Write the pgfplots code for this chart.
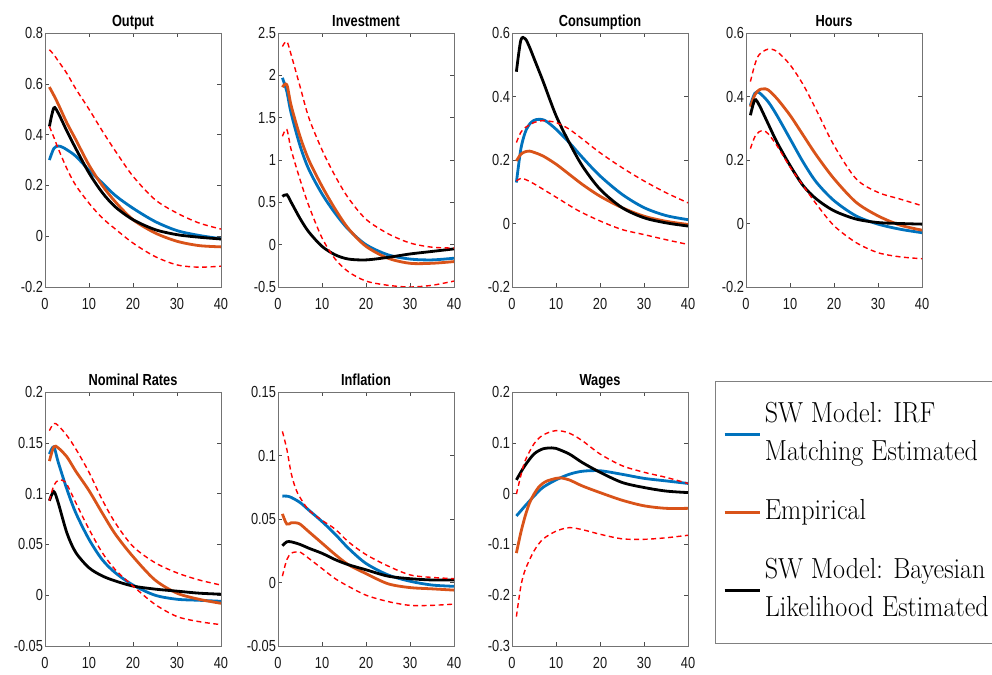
\documentclass[border=0pt]{standalone}
\usepackage{fontspec}
\usepackage{graphicx}
\usepackage{pgfplots}
\pgfplotsset{compat=1.18}

\newfontfamily\matfont[FakeStretch=0.8]{Liberation Sans}
\newcommand\tickfont{\matfont\fontsize{16}{16}\selectfont}
\newcommand\titfont{\matfont\bfseries\fontsize{16}{16}\selectfont}
\newcommand\legfont{\fontsize{29}{38}\selectfont}

\definecolor{mblue}{rgb}{0,0.447,0.741}
\definecolor{morange}{rgb}{0.85,0.325,0.098}

\pgfplotsset{
  irf/.style={
    scale only axis, width=176pt, height=254pt,
    xmin=0, xmax=40, xtick={0,10,20,30,40},
    tick align=inside, major tick length=4pt,
    axis line style={black!55, line width=0.5pt},
    tick style={black!70, line width=0.5pt},
    ticklabel style={font=\tickfont, text=black!90},
    /pgf/number format/assume math mode=true,
    scaled y ticks=false,
    yticklabel style={/pgf/number format/fixed, xshift=1.5pt},
    xticklabel style={yshift=-8pt},
    title style={font=\titfont, anchor=base},
  },
  blu/.style={color=mblue, line width=2.8pt, smooth, tension=0.5},
  ora/.style={color=morange, line width=2.8pt, smooth, tension=0.5},
  blk/.style={color=black, line width=2.8pt, smooth, tension=0.5},
  band/.style={color=red, line width=1.4pt, dash pattern=on 5pt off 3.5pt, smooth, tension=0.5, forget plot},
}

% legend texts: one or two lines, vertically centred
\newcommand\legtext[1]{\scalebox{0.9}[1]{\parbox[c]{250pt}{\legfont #1}}}

\begin{document}
\begin{tikzpicture}
\useasboundingbox (0,0) rectangle (992pt,674pt);

% ---- Output
\begin{axis}[irf, at={(45pt,387pt)}, anchor=south west, title={Output},
  ymin=-0.2, ymax=0.8, ytick={-0.2,0,0.2,0.4,0.6,0.8}]
\addplot[blu] coordinates {(1,0.30)(2,0.345)(3,0.355)(4,0.35)(5,0.34)(7,0.315)(10,0.26)(13,0.21)(16,0.16)(20,0.11)(25,0.058)(30,0.022)(35,0.003)(40,-0.01)};
\addplot[ora] coordinates {(1,0.587)(2,0.555)(3,0.52)(5,0.445)(7,0.38)(10,0.28)(13,0.2)(16,0.135)(20,0.065)(25,0.013)(30,-0.02)(35,-0.037)(40,-0.042)};
\addplot[blk] coordinates {(1,0.432)(2,0.505)(3,0.485)(5,0.413)(7,0.345)(10,0.249)(13,0.172)(16,0.115)(20,0.065)(25,0.026)(30,0.006)(35,-0.004)(40,-0.011)};
\addplot[band] coordinates {(1,0.734)(2,0.715)(3,0.69)(5,0.64)(7,0.58)(10,0.5)(13,0.415)(16,0.335)(20,0.236)(25,0.144)(30,0.091)(35,0.052)(40,0.028)};
\addplot[band] coordinates {(1,0.432)(2,0.39)(3,0.345)(5,0.265)(7,0.2)(10,0.13)(13,0.072)(16,0.028)(20,-0.027)(25,-0.08)(30,-0.113)(35,-0.122)(40,-0.118)};
\end{axis}

% ---- Investment
\begin{axis}[irf, at={(278pt,387pt)}, anchor=south west, title={Investment},
  ymin=-0.5, ymax=2.5, ytick={-0.5,0,0.5,1,1.5,2,2.5}]
\addplot[blu] coordinates {(1,1.97)(2,1.81)(3,1.55)(5,1.17)(7,0.89)(10,0.6)(13,0.37)(16,0.18)(20,0.0)(25,-0.12)(30,-0.17)(35,-0.18)(40,-0.16)};
\addplot[ora] coordinates {(1,1.86)(2,1.89)(3,1.64)(5,1.28)(7,1.0)(10,0.69)(13,0.42)(16,0.19)(20,-0.02)(25,-0.16)(30,-0.22)(35,-0.22)(40,-0.20)};
\addplot[blk] coordinates {(1,0.57)(2,0.59)(3,0.5)(5,0.31)(7,0.15)(10,-0.02)(13,-0.12)(16,-0.17)(20,-0.18)(25,-0.15)(30,-0.11)(35,-0.08)(40,-0.05)};
\addplot[band] coordinates {(1,2.34)(2,2.40)(3,2.24)(5,1.87)(7,1.5)(10,1.12)(13,0.81)(16,0.55)(20,0.30)(25,0.13)(30,0.02)(35,-0.03)(40,-0.04)};
\addplot[band] coordinates {(1,1.28)(2,1.36)(3,1.12)(5,0.77)(7,0.46)(10,0.08)(13,-0.17)(16,-0.32)(20,-0.43)(25,-0.48)(30,-0.50)(35,-0.48)(40,-0.43)};
\end{axis}

% ---- Consumption
\begin{axis}[irf, at={(512pt,387pt)}, anchor=south west, title={Consumption},
  ymin=-0.2, ymax=0.6, ytick={-0.2,0,0.2,0.4,0.6}]
\addplot[blu] coordinates {(1,0.129)(2,0.234)(3,0.287)(4,0.313)(5,0.325)(6,0.328)(7,0.327)(8,0.32)(10,0.297)(13,0.255)(16,0.208)(20,0.15)(25,0.092)(30,0.05)(35,0.025)(40,0.012)};
\addplot[ora] coordinates {(1,0.197)(2,0.218)(3,0.226)(4,0.228)(5,0.224)(7,0.213)(10,0.187)(13,0.155)(16,0.123)(20,0.086)(25,0.05)(30,0.023)(35,0.007)(40,-0.003)};
\addplot[blk] coordinates {(1,0.478)(2,0.577)(3,0.582)(4,0.555)(5,0.52)(7,0.45)(10,0.34)(13,0.255)(16,0.181)(20,0.108)(25,0.05)(30,0.018)(35,0.002)(40,-0.008)};
\addplot[band] coordinates {(1,0.255)(2,0.287)(3,0.302)(5,0.318)(7,0.324)(10,0.318)(13,0.297)(16,0.266)(20,0.223)(25,0.176)(30,0.134)(35,0.097)(40,0.065)};
\addplot[band] coordinates {(1,0.134)(2,0.142)(3,0.139)(5,0.125)(10,0.083)(15,0.041)(20,0.008)(25,-0.019)(30,-0.035)(35,-0.051)(40,-0.066)};
\end{axis}

% ---- Hours
\begin{axis}[irf, at={(746pt,387pt)}, anchor=south west, title={Hours},
  ymin=-0.2, ymax=0.6, ytick={-0.2,0,0.2,0.4,0.6}]
\addplot[blu] coordinates {(1,0.373)(2,0.41)(3,0.412)(5,0.384)(7,0.341)(10,0.267)(13,0.193)(16,0.13)(20,0.072)(25,0.024)(30,-0.002)(35,-0.018)(40,-0.029)};
\addplot[ora] coordinates {(1,0.368)(2,0.405)(3,0.421)(4,0.424)(5,0.421)(7,0.394)(10,0.341)(13,0.278)(16,0.215)(20,0.141)(25,0.067)(30,0.024)(35,-0.005)(40,-0.021)};
\addplot[blk] coordinates {(1,0.341)(2,0.389)(3,0.373)(5,0.315)(7,0.257)(10,0.183)(13,0.119)(16,0.077)(20,0.04)(25,0.014)(30,0.003)(35,0.0)(40,-0.002)};
\addplot[band] coordinates {(1,0.447)(2,0.50)(3,0.532)(5,0.549)(7,0.542)(10,0.50)(13,0.437)(16,0.357)(20,0.246)(25,0.141)(30,0.098)(35,0.077)(40,0.056)};
\addplot[band] coordinates {(1,0.236)(2,0.273)(3,0.289)(4,0.292)(5,0.283)(7,0.246)(10,0.178)(13,0.119)(16,0.061)(20,-0.007)(25,-0.06)(30,-0.092)(35,-0.105)(40,-0.111)};
\end{axis}

% ---- Nominal Rates
\begin{axis}[irf, at={(45pt,28pt)}, anchor=south west, title={Nominal Rates},
  ymin=-0.05, ymax=0.2, ytick={-0.05,0,0.05,0.1,0.15,0.2}]
\addplot[blu] coordinates {(1,0.139)(2,0.146)(3,0.131)(5,0.104)(7,0.081)(10,0.055)(13,0.035)(16,0.022)(20,0.010)(25,0.0)(30,-0.004)(35,-0.005)(40,-0.006)};
\addplot[ora] coordinates {(1,0.132)(2,0.146)(3,0.145)(5,0.136)(7,0.122)(10,0.103)(13,0.081)(16,0.06)(20,0.038)(25,0.015)(30,0.002)(35,-0.004)(40,-0.008)};
\addplot[blk] coordinates {(1,0.093)(2,0.102)(3,0.091)(5,0.061)(7,0.042)(10,0.027)(13,0.019)(16,0.014)(20,0.009)(25,0.006)(30,0.004)(35,0.002)(40,0.001)};
\addplot[band] coordinates {(1,0.162)(2,0.169)(3,0.167)(5,0.157)(7,0.144)(10,0.121)(13,0.094)(16,0.071)(20,0.048)(25,0.032)(30,0.022)(35,0.015)(40,0.010)};
\addplot[band] coordinates {(1,0.093)(2,0.108)(3,0.113)(4,0.113)(5,0.109)(7,0.091)(10,0.065)(13,0.042)(16,0.025)(20,0.009)(25,-0.009)(30,-0.021)(35,-0.026)(40,-0.029)};
\end{axis}

% ---- Inflation
\begin{axis}[irf, at={(278pt,28pt)}, anchor=south west, title={Inflation},
  ymin=-0.05, ymax=0.15, ytick={-0.05,0,0.05,0.1,0.15}]
\addplot[blu] coordinates {(1,0.068)(2,0.068)(3,0.067)(5,0.063)(7,0.057)(10,0.048)(13,0.038)(16,0.027)(20,0.015)(25,0.006)(30,0.001)(35,-0.002)(40,-0.003)};
\addplot[ora] coordinates {(1,0.054)(2,0.046)(3,0.047)(4,0.047)(5,0.046)(7,0.04)(10,0.031)(13,0.022)(16,0.014)(20,0.007)(25,-0.001)(30,-0.004)(35,-0.005)(40,-0.006)};
\addplot[blk] coordinates {(1,0.029)(2,0.032)(3,0.032)(5,0.03)(7,0.027)(10,0.023)(13,0.018)(16,0.014)(20,0.010)(25,0.005)(30,0.003)(35,0.002)(40,0.002)};
\addplot[band] coordinates {(1,0.119)(2,0.105)(3,0.086)(4,0.074)(5,0.067)(7,0.057)(10,0.049)(13,0.042)(16,0.032)(20,0.022)(25,0.013)(30,0.006)(35,0.004)(40,0.003)};
\addplot[band] coordinates {(1,0.005)(2,0.018)(3,0.023)(4,0.024)(5,0.024)(7,0.019)(10,0.011)(13,0.003)(16,-0.003)(20,-0.01)(25,-0.015)(30,-0.018)(35,-0.018)(40,-0.017)};
\end{axis}

% ---- Wages (carries the legend)
\begin{axis}[irf, at={(512pt,28pt)}, anchor=south west, title={Wages},
  ymin=-0.3, ymax=0.2, ytick={-0.3,-0.2,-0.1,0,0.1,0.2},
  legend style={at={(1.153,1.0435)}, anchor=north west, draw=black!50,
    line width=0.6pt, fill=white, inner xsep=8pt, inner ysep=15pt,
    row sep=21pt, column sep=4pt, nodes={inner sep=0pt, text depth=, text height=},
    cells={anchor=west}},
  legend image code/.code={\draw[#1, line width=2.6pt] (0pt,0pt) -- (35pt,0pt);}]
\addplot[blu] coordinates {(1,-0.044)(2,-0.034)(3,-0.024)(5,-0.005)(7,0.012)(10,0.027)(13,0.038)(16,0.044)(20,0.045)(25,0.038)(30,0.03)(35,0.025)(40,0.02)};
\addlegendentry{\legtext{\strut SW Model: IRF\par Matching Estimated\strut}}
\addplot[ora] coordinates {(1,-0.117)(2,-0.077)(3,-0.044)(4,-0.018)(5,-0.001)(6,0.012)(7,0.02)(8,0.025)(10,0.03)(11,0.031)(13,0.027)(16,0.015)(20,0.002)(25,-0.013)(30,-0.024)(35,-0.029)(40,-0.029)};
\addlegendentry{\legtext{\strut Empirical}}
\addplot[blk] coordinates {(1,0.027)(2,0.042)(3,0.056)(5,0.078)(7,0.088)(9,0.09)(10,0.089)(13,0.078)(16,0.061)(20,0.042)(25,0.022)(30,0.012)(35,0.005)(40,0.002)};
\addlegendentry{\legtext{\strut SW Model: Bayesian\par Likelihood Estimated\strut}}
\addplot[band] coordinates {(1,-0.001)(2,0.035)(3,0.065)(5,0.098)(7,0.115)(10,0.124)(13,0.119)(16,0.104)(20,0.078)(25,0.055)(30,0.042)(35,0.032)(40,0.02)};
\addplot[band] coordinates {(1,-0.242)(2,-0.183)(3,-0.15)(5,-0.113)(7,-0.09)(10,-0.074)(13,-0.067)(16,-0.071)(20,-0.08)(25,-0.089)(30,-0.09)(35,-0.087)(40,-0.082)};
\end{axis}
\end{tikzpicture}
\end{document}
